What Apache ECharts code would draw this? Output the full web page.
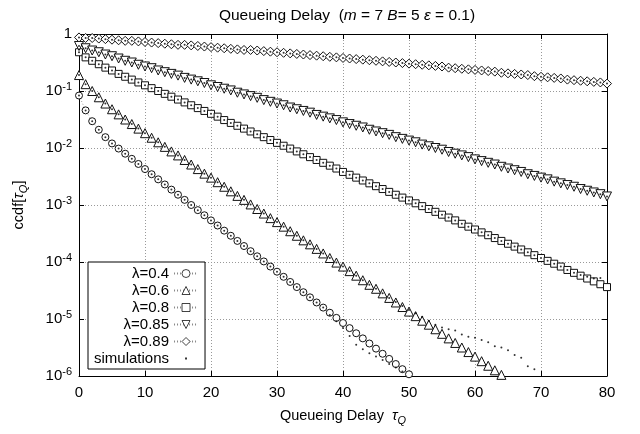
<!DOCTYPE html>
<html>
<head>
<meta charset="utf-8">
<title>Queueing Delay</title>
<script src="https://cdn.jsdelivr.net/npm/echarts@6/dist/echarts.min.js"></script>
<style>
  html, body { margin: 0; padding: 0; background: #fff; }
  #chart { width: 640px; height: 434px; }
</style>
</head>
<body>
<div id="chart"></div>
<script>
// log10(ccdf), one value per unit of delay, starting at delay 0
const ccdfLog04 = [-1.08,-1.34,-1.53,-1.68,-1.81,-1.92,-2.01,-2.10,-2.19,-2.28,-2.37,
  -2.46,-2.55,-2.64,-2.73,-2.82,-2.91,-3.00,-3.09,-3.18,-3.27,
  -3.36,-3.45,-3.54,-3.63,-3.72,-3.81,-3.90,-3.99,-4.08,-4.17,
  -4.26,-4.35,-4.44,-4.53,-4.62,-4.71,-4.80,-4.89,-4.98,-5.07,
  -5.16,-5.25,-5.34,-5.43,-5.52,-5.61,-5.70,-5.79,-5.88,-5.97];
const ccdfLog06 = [-0.72,-0.88,-1.00,-1.11,-1.22,-1.32,-1.41,-1.50,-1.58,-1.66,-1.74,
  -1.82,-1.90,-1.98,-2.06,-2.13,-2.21,-2.29,-2.37,-2.45,-2.52,
  -2.60,-2.68,-2.76,-2.84,-2.91,-2.99,-3.07,-3.15,-3.23,-3.30,
  -3.38,-3.46,-3.54,-3.62,-3.69,-3.77,-3.85,-3.93,-4.01,-4.08,
  -4.16,-4.24,-4.32,-4.40,-4.47,-4.55,-4.63,-4.71,-4.79,-4.87,
  -4.95,-5.03,-5.10,-5.18,-5.26,-5.34,-5.42,-5.50,-5.58,-5.66,
  -5.74,-5.82,-5.90,-5.98];
const ccdfLog08 = [-0.32,-0.41,-0.47,-0.53,-0.59,-0.64,-0.70,-0.75,-0.80,-0.85,-0.90,
  -0.95,-1.00,-1.05,-1.10,-1.15,-1.20,-1.25,-1.30,-1.35,-1.40,
  -1.45,-1.51,-1.56,-1.61,-1.66,-1.71,-1.76,-1.81,-1.86,-1.91,
  -1.96,-2.01,-2.06,-2.11,-2.16,-2.21,-2.26,-2.31,-2.36,-2.42,
  -2.47,-2.52,-2.57,-2.62,-2.67,-2.72,-2.77,-2.82,-2.87,-2.92,
  -2.97,-3.02,-3.07,-3.12,-3.17,-3.22,-3.27,-3.33,-3.38,-3.43,
  -3.48,-3.53,-3.58,-3.63,-3.68,-3.73,-3.78,-3.83,-3.88,-3.93,
  -3.98,-4.03,-4.08,-4.14,-4.19,-4.24,-4.29,-4.34,-4.39,-4.44];
const ccdfLog085 = [-0.21,-0.25,-0.29,-0.32,-0.36,-0.39,-0.43,-0.47,-0.50,-0.54,-0.57,
  -0.60,-0.64,-0.67,-0.70,-0.73,-0.77,-0.80,-0.83,-0.86,-0.90,
  -0.93,-0.96,-0.99,-1.03,-1.06,-1.09,-1.12,-1.16,-1.19,-1.22,
  -1.25,-1.29,-1.32,-1.35,-1.38,-1.42,-1.45,-1.48,-1.51,-1.55,
  -1.58,-1.61,-1.64,-1.68,-1.71,-1.74,-1.77,-1.81,-1.84,-1.87,
  -1.90,-1.94,-1.97,-2.00,-2.03,-2.07,-2.10,-2.13,-2.16,-2.20,
  -2.23,-2.26,-2.29,-2.33,-2.36,-2.39,-2.42,-2.46,-2.49,-2.52,
  -2.55,-2.59,-2.62,-2.65,-2.68,-2.72,-2.75,-2.78,-2.81,-2.85];
const ccdfLog089 = [-0.06,-0.07,-0.07,-0.08,-0.09,-0.10,-0.11,-0.12,-0.12,-0.13,-0.14,
  -0.15,-0.16,-0.17,-0.18,-0.19,-0.19,-0.20,-0.21,-0.22,-0.23,
  -0.24,-0.25,-0.26,-0.27,-0.28,-0.28,-0.29,-0.30,-0.31,-0.32,
  -0.33,-0.34,-0.35,-0.36,-0.37,-0.38,-0.39,-0.40,-0.41,-0.42,
  -0.43,-0.44,-0.45,-0.46,-0.47,-0.48,-0.49,-0.50,-0.51,-0.52,
  -0.53,-0.54,-0.55,-0.56,-0.57,-0.59,-0.60,-0.61,-0.62,-0.63,
  -0.64,-0.65,-0.66,-0.68,-0.69,-0.70,-0.71,-0.72,-0.74,-0.75,
  -0.76,-0.77,-0.78,-0.80,-0.81,-0.82,-0.83,-0.84,-0.85,-0.87];

// simulations sit on the analytic points, except for these tails (start delay + log10 values)
const simStart04 = 38;
const simTail04 = [-4.93,-5.04,-5.16,-5.30,-5.45,-5.53,-5.60,-5.66,-5.72,-5.79,-5.85,-5.92];
const simStart06 = 48;
const simTail06 = [-4.70,-4.77,-4.84,-4.90,-4.96,-5.03,-5.10,-5.15,-5.18,-5.20,-5.27,-5.31,
  -5.33,-5.37,-5.41,-5.48,-5.50,-5.55,-5.63,-5.68,-5.83,-5.88];
const simStart08 = 76;
const simTail08 = [-4.23,-4.26,-4.29,-4.28];

const seriesNames = ['λ=0.4', 'λ=0.6', 'λ=0.8', 'λ=0.85', 'λ=0.89'];

const FONT = 'Liberation Sans, Arial, Helvetica, sans-serif';

const curves = [
  { name: seriesNames[0], values: ccdfLog04, simStart: simStart04, simTail: simTail04, symbol: 'circle', size: 7, rotate: 0 },
  { name: seriesNames[1], values: ccdfLog06, simStart: simStart06, simTail: simTail06, symbol: 'triangle', size: 9, rotate: 0 },
  { name: seriesNames[2], values: ccdfLog08, simStart: simStart08, simTail: simTail08, symbol: 'rect', size: 7, rotate: 0 },
  { name: seriesNames[3], values: ccdfLog085, simStart: ccdfLog085.length, simTail: [], symbol: 'triangle', size: 9, rotate: 180 },
  { name: seriesNames[4], values: ccdfLog089, simStart: ccdfLog089.length, simTail: [], symbol: 'diamond', size: 9, rotate: 0 }
];

const toPoint = (v, t) => [t, Math.pow(10, v)];

const series = [];
curves.forEach(c => {
  series.push({
    name: c.name,
    type: 'line',
    data: c.values.map((v, i) => toPoint(v, i)),
    symbol: c.symbol,
    symbolSize: c.size,
    symbolRotate: c.rotate,
    showAllSymbol: true,
    lineStyle: { color: '#888', width: 0.8, type: [1, 2] },
    itemStyle: { color: '#fff', borderColor: '#111', borderWidth: 1 },
    emphasis: { disabled: true },
    z: 2
  });
});
curves.forEach(c => {
  const pts = c.values.slice(0, c.simStart).map((v, i) => toPoint(v, i))
    .concat(c.simTail.map((v, i) => toPoint(v, c.simStart + i)));
  series.push({
    name: 'simulations',
    type: 'scatter',
    data: pts,
    symbol: 'circle',
    symbolSize: 2,
    itemStyle: { color: '#000' },
    emphasis: { disabled: true },
    z: 3
  });
});

const axisLineStyle = { color: '#000', width: 1 };
const gridLine = { show: true, lineStyle: { color: '#999', width: 1, type: [1, 2] } };
const subRich = {
  t: { fontFamily: FONT, fontSize: 15, color: '#000', fontStyle: 'italic' },
  sub: { fontFamily: FONT, fontSize: 11, color: '#000', fontStyle: 'italic', padding: [9, 0, 0, 0] }
};

const chart = echarts.init(document.getElementById('chart'), null, { renderer: 'canvas' });
chart.setOption({
  animation: false,
  backgroundColor: '#fff',
  title: {
    text: 'Queueing Delay  ({i|m} = 7 {i|B}= 5 {i|ε} = 0.1)',
    left: 342,
    top: 3,
    textAlign: 'center',
    textStyle: {
      fontFamily: FONT, fontSize: 15.5, fontWeight: 'normal', color: '#000',
      rich: { i: { fontFamily: FONT, fontSize: 15.5, color: '#000', fontStyle: 'italic' } }
    }
  },
  grid: { left: 79, right: 33, top: 34, bottom: 58, outerBoundsMode: 'none' },
  legend: {
    orient: 'vertical',
    left: 88,
    top: 262,
    align: 'right',
    itemWidth: 24,
    itemHeight: 10,
    itemGap: 2,
    padding: [4, 6, 3, 6],
    backgroundColor: '#fff',
    borderColor: '#000',
    borderWidth: 1,
    borderRadius: 0,
    selectedMode: false,
    symbolRotate: 'inherit',
    itemStyle: { borderWidth: 0.8 },
    textStyle: { fontFamily: FONT, fontSize: 15, color: '#000', lineHeight: 15 },
    data: seriesNames.concat([{ name: 'simulations', icon: 'path://M0,0L0,0M24,10L24,10M11,4L13,4L13,6L11,6Z' }])
  },
  xAxis: [{
    type: 'value', min: 0, max: 80, interval: 10, position: 'bottom',
    name: 'Queueing Delay  {t|τ}{sub|Q}',
    nameLocation: 'middle', nameGap: 30,
    nameTextStyle: { fontFamily: FONT, fontSize: 14.5, color: '#000', rich: subRich },
    axisLine: { show: true, onZero: false, lineStyle: axisLineStyle },
    axisTick: { show: true, inside: true, length: 5, lineStyle: axisLineStyle },
    axisLabel: { fontFamily: FONT, fontSize: 15, color: '#000', margin: 9 },
    splitLine: gridLine
  }, {
    type: 'value', min: 0, max: 80, interval: 10, position: 'top',
    axisLine: { show: true, onZero: false, lineStyle: axisLineStyle },
    axisTick: { show: true, inside: true, length: 5, lineStyle: axisLineStyle },
    axisLabel: { show: false },
    splitLine: { show: false }
  }],
  yAxis: [{
    type: 'log', logBase: 10, min: 1e-6, max: 1, position: 'left',
    name: 'ccdf[{t|τ}{sub|Q}]',
    nameLocation: 'middle', nameGap: 50,
    nameTextStyle: { fontFamily: FONT, fontSize: 14.5, color: '#000', rich: subRich },
    axisLine: { show: true, onZero: false, lineStyle: axisLineStyle },
    axisTick: { show: true, inside: true, length: 5, lineStyle: axisLineStyle },
    minorTick: { show: false },
    axisLabel: {
      fontFamily: FONT, fontSize: 15, color: '#000', margin: 7,
      formatter: v => {
        const e = Math.round(Math.log10(v));
        return e === 0 ? '1' : '10{sup|' + e + '}';
      },
      rich: { sup: { fontFamily: FONT, fontSize: 11, color: '#000', padding: [0, 0, 8, 0] } }
    },
    splitLine: gridLine
  }, {
    type: 'log', logBase: 10, min: 1e-6, max: 1, position: 'right',
    axisLine: { show: true, onZero: false, lineStyle: axisLineStyle },
    axisTick: { show: true, inside: true, length: 5, lineStyle: axisLineStyle },
    axisLabel: { show: false },
    splitLine: { show: false }
  }],
  series: series
});
</script>
</body>
</html>
